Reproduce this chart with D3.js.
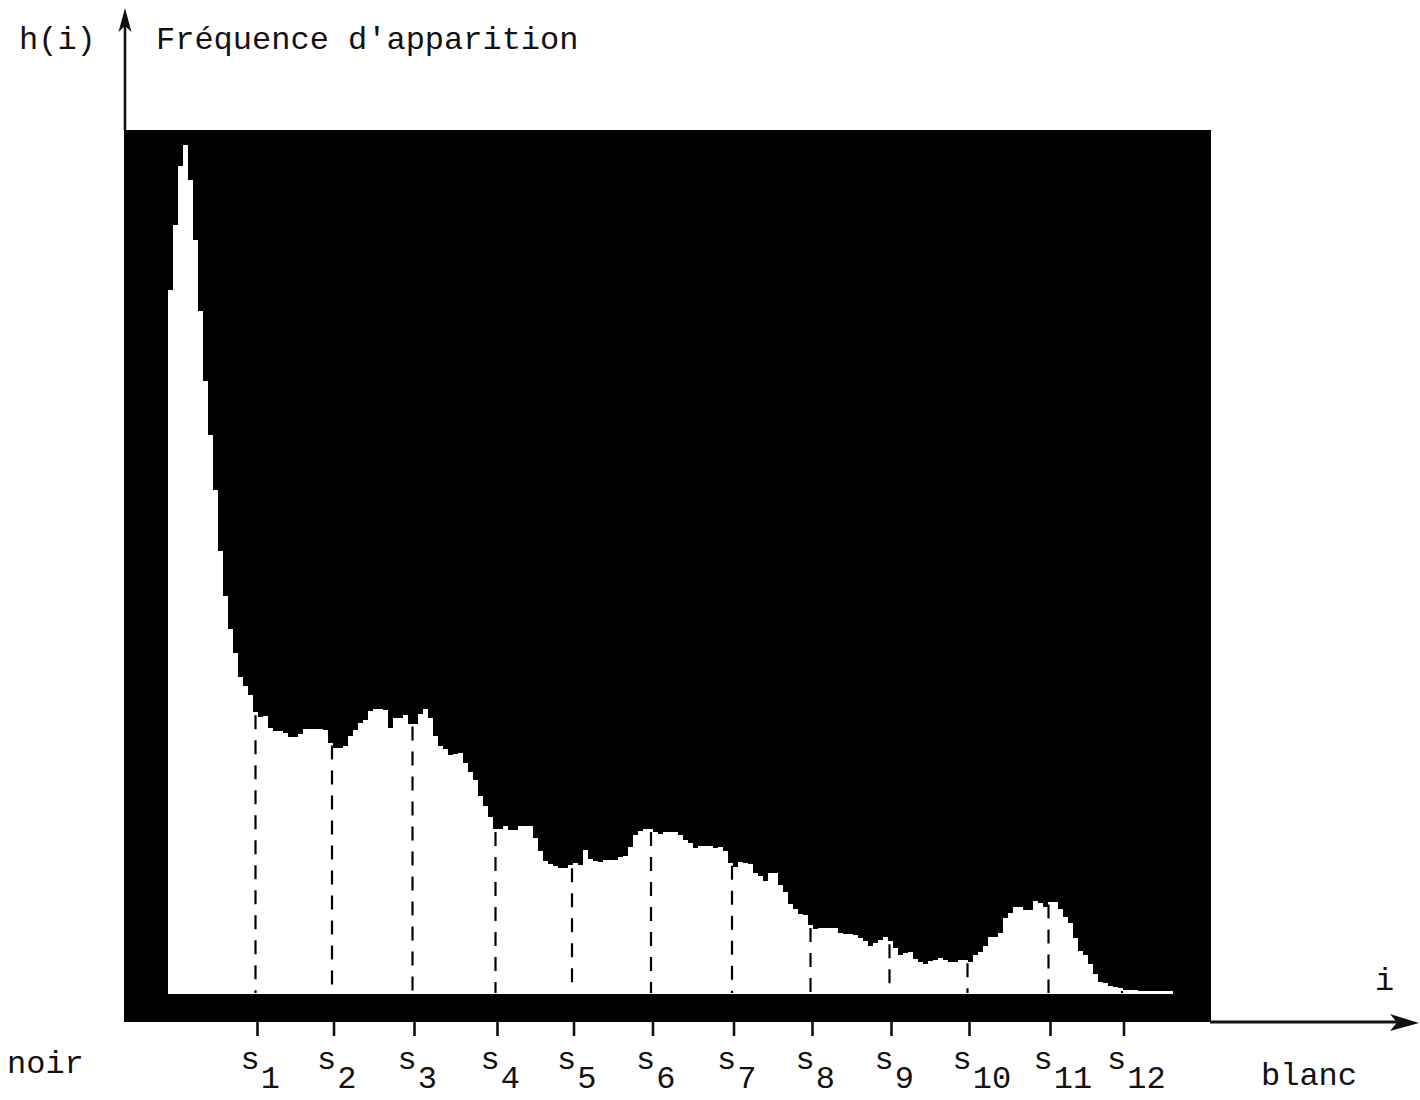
<!DOCTYPE html>
<html><head><meta charset="utf-8">
<script src="https://cdn.jsdelivr.net/npm/d3@7"></script>
<style>body{margin:0;background:#fff}</style>
</head><body><svg id="c" width="1420" height="1100"></svg>
<script>
// histogram h(i): one value per grey level bin (arbitrary units, 0..100 = frame height)
const frequencies = [
81.5,89.0,95.8,98.3,94.2,87.3,79.1,71.0,64.7,58.3,
51.3,46.1,42.3,39.5,36.7,35.7,34.6,32.6,32.1,32.2,
30.8,30.4,30.4,30.2,29.7,29.7,30.1,30.7,30.7,30.7,
30.7,30.5,29.1,28.5,28.5,28.7,29.9,30.6,31.4,31.7,
32.7,33.0,33.0,32.9,30.8,32.0,32.0,32.3,31.3,31.3,
32.4,33.0,32.0,29.9,28.7,28.4,27.7,27.8,27.9,26.7,
25.7,24.8,22.9,21.8,20.5,19.1,19.1,19.4,19.0,19.0,
19.5,19.5,19.4,18.0,16.6,15.4,15.1,14.8,14.6,14.6,
14.9,15.2,14.9,16.7,15.6,15.4,15.3,15.5,15.5,15.5,
15.9,16.0,17.0,18.4,18.9,19.1,19.1,18.7,18.5,18.8,
18.8,18.8,18.4,17.8,17.5,16.9,17.1,17.1,17.1,16.9,
17.0,16.6,15.2,14.7,15.3,15.2,15.1,14.0,13.6,13.1,
14.0,14.0,12.6,11.8,10.4,9.8,9.3,9.2,8.0,7.5,
7.6,7.6,7.6,7.6,7.1,6.9,6.9,6.8,6.5,6.1,
5.6,5.9,6.3,6.6,6.1,5.3,4.5,4.8,4.9,4.1,
3.7,3.5,3.8,3.9,4.2,3.9,3.7,3.7,3.9,3.9,
3.7,4.5,4.9,5.6,6.6,6.6,7.1,8.8,9.4,10.1,
10.1,9.7,9.7,10.8,10.5,10.1,10.7,10.7,9.8,8.9,
8.2,6.5,5.0,4.5,3.5,2.3,1.4,1.3,0.9,0.8,
0.7,0.5,0.5,0.5,0.3,0.3,0.3,0.3,0.3,0.3,
0.3
];
// thresholds s1..s12 (in grey-level bin units)
const thresholds = [17.5, 32.8, 48.9, 65.5, 80.8, 96.6, 112.8, 128.5, 144.3, 159.9, 176.1, 190.8];
const thresholdLabels = ["1","2","3","4","5","6","7","8","9","10","11","12"];
const yTitle = "h(i)";
const yLabel = "Fréquence d'apparition";
const xLabel = "i";
const leftLabel = "noir";
const rightLabel = "blanc";

const svg = d3.select('#c');
const FONT = "'Liberation Mono','DejaVu Sans Mono',monospace";
const ink = "#111";
const FS = 32;

const x = d3.scaleLinear().domain([0, frequencies.length]).range([168, 1173]);
const y = d3.scaleLinear().domain([0, 100]).range([994, 130]);

// black frame
svg.append('rect').attr('x', 124).attr('y', 130).attr('width', 1087).attr('height', 892).attr('fill', '#000');

// histogram (white) as a step area
const pts = frequencies.map((v, i) => [i, v]);
pts.push([frequencies.length, frequencies[frequencies.length - 1]]);
const area = d3.area()
  .x(d => x(d[0]))
  .y0(y(0))
  .y1(d => y(d[1]))
  .curve(d3.curveStepAfter);
svg.append('path').datum(pts).attr('d', area).attr('fill', '#fff').attr('shape-rendering', 'crispEdges');

// dashed threshold lines
svg.append('g').selectAll('line').data(thresholds).join('line')
  .attr('x1', d => x(d)).attr('x2', d => x(d))
  .attr('y1', d => y(frequencies[Math.floor(d)]) + 3)
  .attr('y2', y(0) - 1)
  .attr('stroke', '#000').attr('stroke-width', 2.2)
  .attr('stroke-dasharray', '14,11');

// axes
svg.append('line').attr('x1', 125).attr('x2', 125).attr('y1', 130).attr('y2', 24)
  .attr('stroke', ink).attr('stroke-width', 2.6);
svg.append('path').attr('d', 'M125,8 L118.5,32 L125,26 L131.5,32 Z').attr('fill', ink);
svg.append('line').attr('x1', 1210).attr('x2', 1400).attr('y1', 1022).attr('y2', 1022)
  .attr('stroke', ink).attr('stroke-width', 3);
svg.append('path').attr('d', 'M1419,1023 L1390,1014 L1397,1022.5 L1390,1031 Z').attr('fill', ink);

// ticks under the axis
svg.append('g').selectAll('line').data(thresholds).join('line')
  .attr('x1', d => x(d) + 2).attr('x2', d => x(d) + 2)
  .attr('y1', 1021).attr('y2', 1036)
  .attr('stroke', ink).attr('stroke-width', 2.6);

// threshold labels s_k
const lab = svg.append('g').attr('font-family', FONT).attr('font-size', FS).attr('fill', ink);
thresholds.forEach((t, k) => {
  const tx = lab.append('text').attr('x', x(t) - 15).attr('y', 1069);
  tx.append('tspan').text('s');
  tx.append('tspan').attr('dy', 19).attr('dx', 1).text(thresholdLabels[k]);
});

// other texts
const txt = (s, xx, yy) => svg.append('text').attr('x', xx).attr('y', yy)
  .attr('font-family', FONT).attr('font-size', FS).attr('fill', ink).text(s);
txt(yTitle, 19, 49);
txt(yLabel, 156, 49);
txt(xLabel, 1375, 990);
txt(leftLabel, 7, 1073);
txt(rightLabel, 1261, 1085);
</script></body></html>
